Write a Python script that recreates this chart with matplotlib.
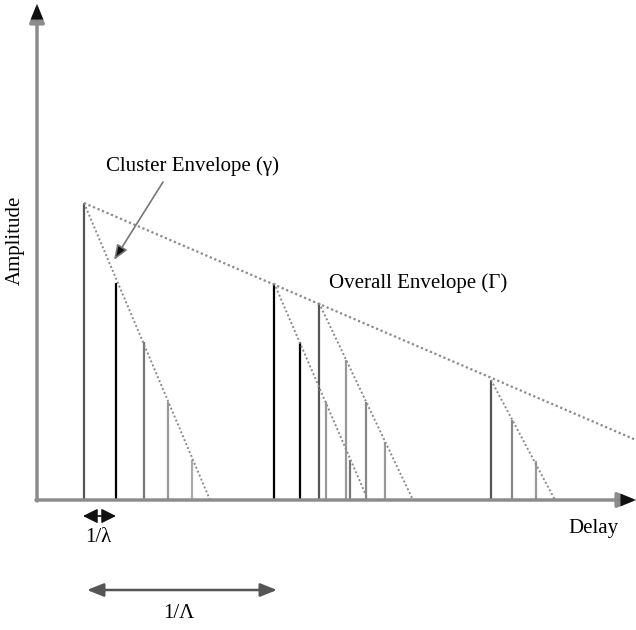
import numpy as np
import matplotlib.pyplot as plt

plt.rcParams['font.family'] = ['Liberation Serif', 'DejaVu Serif']

# multipath rays: delay and amplitude (arbitrary units)
ray_delay = [47, 79, 107, 131, 155,
             237, 263, 282, 289, 309, 313, 329, 348,
             454, 475, 499]
ray_amp = [297, 217, 158, 98, 40,
           217, 158, 197, 98, 140, 40, 98, 58,
           120, 80, 39]
ray_color = ['#555555', '#000000', '#777777', '#999999', '#aaaaaa',
             '#000000', '#000000', '#555555', '#999999', '#999999', '#777777', '#888888', '#999999',
             '#555555', '#888888', '#999999']

# cluster envelopes: start (delay, amp) -> decay to zero at end delay
cluster_start = [47, 237, 282, 454]
cluster_amp = [297, 217, 197, 120]
cluster_end = [173, 331, 376, 518]

# overall envelope
overall_x = [47, 599]
overall_y = [297, 60]

fig = plt.figure(figsize=(6.36, 6.30), dpi=100)
ax = fig.add_axes([0, 0, 1, 1])
ax.set_xlim(-37, 599)
ax.set_ylim(-130, 500)
ax.axis('off')

axis_col = '#8c8c8c'
# axes with arrowheads
ax.annotate('', xy=(0, 496), xytext=(0, -1),
            arrowprops=dict(arrowstyle='-|>,head_length=1.1,head_width=0.45',
                            color=axis_col, lw=2.5, shrinkA=0, shrinkB=0))
ax.annotate('', xy=(0, 496), xytext=(0, 478),
            arrowprops=dict(arrowstyle='-|>,head_length=1.1,head_width=0.45',
                            color='#111111', lw=0.1, shrinkA=0, shrinkB=0))
ax.annotate('', xy=(599, 0), xytext=(-1, 0),
            arrowprops=dict(arrowstyle='-|>,head_length=1.1,head_width=0.45',
                            color=axis_col, lw=2.5, shrinkA=0, shrinkB=0))
ax.annotate('', xy=(599, 0), xytext=(580, 0),
            arrowprops=dict(arrowstyle='-|>,head_length=1.1,head_width=0.45',
                            color='#111111', lw=0.1, shrinkA=0, shrinkB=0))

# rays
for d, a, c in zip(ray_delay, ray_amp, ray_color):
    ax.plot([d, d], [0, a], color=c, lw=1.6, solid_capstyle='butt')

# envelopes
dot = (0, (1, 1.2))
for s, a, e in zip(cluster_start, cluster_amp, cluster_end):
    ax.plot([s, e], [a, 0], color='#8a8a8a', lw=1.4, linestyle=dot)
ax.plot(overall_x, overall_y, color='#8a8a8a', lw=1.6, linestyle=dot)

# labels
fs = 15
ax.text(-22, 260, 'Amplitude', rotation=90, ha='center', va='center', fontsize=fs)
ax.text(556, -28, 'Delay', ha='center', va='center', fontsize=fs)
ax.text(156, 334, 'Cluster Envelope (\u03b3)', ha='center', va='center', fontsize=fs)
ax.text(381, 217, 'Overall Envelope (\u0393)', ha='center', va='center', fontsize=fs)

# annotation arrow pointing at the first cluster envelope
ax.annotate('', xy=(77, 240), xytext=(126, 318),
            arrowprops=dict(arrowstyle='-|>,head_length=0.9,head_width=0.35',
                            color='#777777', fc='#111111', lw=1.2, shrinkA=0, shrinkB=0))

# inter-arrival markers
ax.annotate('', xy=(46, -16), xytext=(63, -16),
            arrowprops=dict(arrowstyle='-|>,head_length=0.9,head_width=0.45',
                            color='#111111', lw=1.0, shrinkA=0, shrinkB=0))
ax.annotate('', xy=(79, -16), xytext=(62, -16),
            arrowprops=dict(arrowstyle='-|>,head_length=0.9,head_width=0.45',
                            color='#111111', lw=1.0, shrinkA=0, shrinkB=0))
ax.text(61, -38, '1/\u03bb', ha='center', va='center', fontsize=fs)
ax.annotate('', xy=(50, -90), xytext=(240, -90),
            arrowprops=dict(arrowstyle='<|-|>,head_length=1.0,head_width=0.4',
                            color='#555555', lw=1.8, shrinkA=0, shrinkB=0))
ax.text(142, -113, '1/\u039b', ha='center', va='center', fontsize=fs)

fig.savefig('out.png', dpi=100)
